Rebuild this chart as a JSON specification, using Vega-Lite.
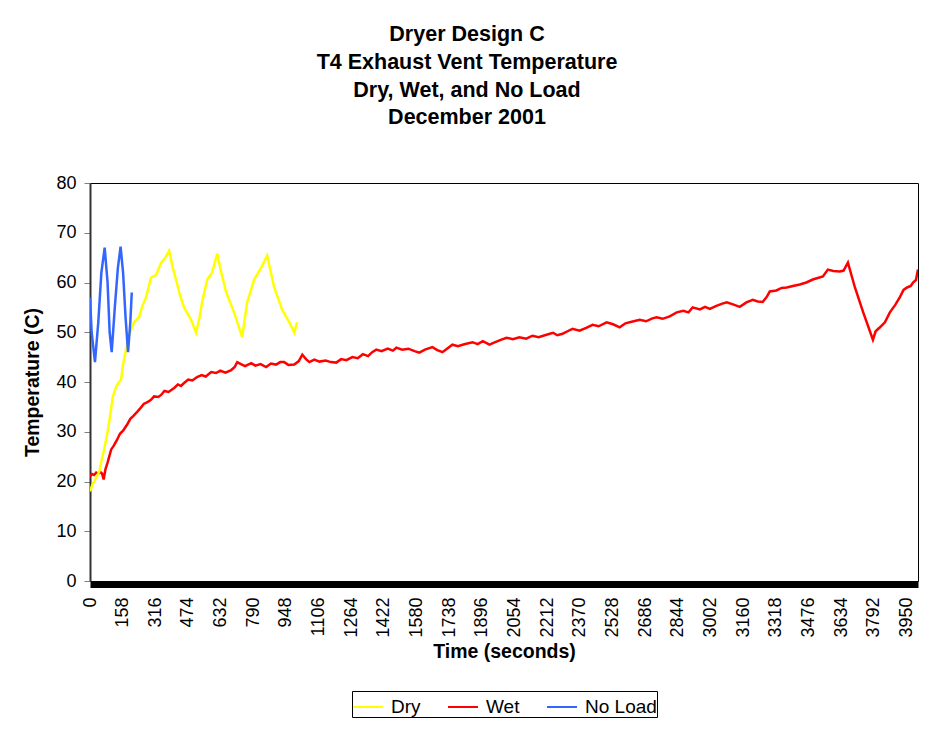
{
  "$schema": "https://vega.github.io/schema/vega-lite/v6.json",
  "width": 828,
  "height": 398,
  "autosize": {"type": "none"},
  "padding": {"left": 90, "top": 183, "right": 17, "bottom": 149},
  "background": "white",
  "config": {
    "font": "Liberation Sans",
    "view": {"stroke": "#000", "strokeWidth": 1},
    "axis": {"labelColor": "#000", "titleColor": "#000", "grid": false}
  },
  "title": {
    "text": ["Dryer Design C", "T4 Exhaust Vent Temperature", "Dry, Wet, and No Load", "December 2001"],
    "fontSize": 21.5,
    "fontWeight": "bold",
    "lineHeight": 27.7,
    "anchor": "middle",
    "dx": -37,
    "offset": 45,
    "color": "#000"
  },
  "data": {
    "values": [
      {"s": "Wet", "t": 0, "v": 21.0}, {"s": "Wet", "t": 10, "v": 21.5}, {"s": "Wet", "t": 20, "v": 21.3}, {"s": "Wet", "t": 30, "v": 21.8},
      {"s": "Wet", "t": 40, "v": 21.6}, {"s": "Wet", "t": 50, "v": 21.9}, {"s": "Wet", "t": 58, "v": 21.6}, {"s": "Wet", "t": 66, "v": 20.4},
      {"s": "Wet", "t": 75, "v": 22.5}, {"s": "Wet", "t": 85, "v": 23.8}, {"s": "Wet", "t": 95, "v": 25.3}, {"s": "Wet", "t": 102, "v": 26.4},
      {"s": "Wet", "t": 115, "v": 27.2}, {"s": "Wet", "t": 131, "v": 28.4}, {"s": "Wet", "t": 145, "v": 29.6}, {"s": "Wet", "t": 160, "v": 30.2},
      {"s": "Wet", "t": 179, "v": 31.4}, {"s": "Wet", "t": 195, "v": 32.6}, {"s": "Wet", "t": 210, "v": 33.2}, {"s": "Wet", "t": 228, "v": 34.0},
      {"s": "Wet", "t": 245, "v": 34.8}, {"s": "Wet", "t": 260, "v": 35.6}, {"s": "Wet", "t": 280, "v": 36.0}, {"s": "Wet", "t": 295, "v": 36.4},
      {"s": "Wet", "t": 310, "v": 37.1}, {"s": "Wet", "t": 330, "v": 37.0}, {"s": "Wet", "t": 344, "v": 37.4}, {"s": "Wet", "t": 360, "v": 38.2},
      {"s": "Wet", "t": 380, "v": 38.0}, {"s": "Wet", "t": 407, "v": 38.8}, {"s": "Wet", "t": 425, "v": 39.5}, {"s": "Wet", "t": 440, "v": 39.2},
      {"s": "Wet", "t": 455, "v": 39.8}, {"s": "Wet", "t": 475, "v": 40.5}, {"s": "Wet", "t": 495, "v": 40.3}, {"s": "Wet", "t": 518, "v": 41.0},
      {"s": "Wet", "t": 540, "v": 41.4}, {"s": "Wet", "t": 560, "v": 41.1}, {"s": "Wet", "t": 586, "v": 42.0}, {"s": "Wet", "t": 610, "v": 41.8},
      {"s": "Wet", "t": 630, "v": 42.3}, {"s": "Wet", "t": 655, "v": 41.9}, {"s": "Wet", "t": 683, "v": 42.4}, {"s": "Wet", "t": 700, "v": 43.0},
      {"s": "Wet", "t": 712, "v": 44.0}, {"s": "Wet", "t": 730, "v": 43.6}, {"s": "Wet", "t": 750, "v": 43.2}, {"s": "Wet", "t": 780, "v": 43.8},
      {"s": "Wet", "t": 800, "v": 43.3}, {"s": "Wet", "t": 825, "v": 43.6}, {"s": "Wet", "t": 852, "v": 43.0}, {"s": "Wet", "t": 875, "v": 43.7},
      {"s": "Wet", "t": 900, "v": 43.5}, {"s": "Wet", "t": 920, "v": 44.0}, {"s": "Wet", "t": 939, "v": 44.0}, {"s": "Wet", "t": 960, "v": 43.4},
      {"s": "Wet", "t": 988, "v": 43.5}, {"s": "Wet", "t": 1010, "v": 44.2}, {"s": "Wet", "t": 1027, "v": 45.5}, {"s": "Wet", "t": 1045, "v": 44.6},
      {"s": "Wet", "t": 1061, "v": 44.0}, {"s": "Wet", "t": 1085, "v": 44.5}, {"s": "Wet", "t": 1110, "v": 44.1}, {"s": "Wet", "t": 1140, "v": 44.3},
      {"s": "Wet", "t": 1165, "v": 44.0}, {"s": "Wet", "t": 1191, "v": 43.9}, {"s": "Wet", "t": 1215, "v": 44.6}, {"s": "Wet", "t": 1240, "v": 44.4},
      {"s": "Wet", "t": 1269, "v": 45.0}, {"s": "Wet", "t": 1295, "v": 44.8}, {"s": "Wet", "t": 1320, "v": 45.6}, {"s": "Wet", "t": 1345, "v": 45.2},
      {"s": "Wet", "t": 1365, "v": 46.0}, {"s": "Wet", "t": 1385, "v": 46.5}, {"s": "Wet", "t": 1410, "v": 46.2}, {"s": "Wet", "t": 1440, "v": 46.7},
      {"s": "Wet", "t": 1465, "v": 46.3}, {"s": "Wet", "t": 1482, "v": 46.9}, {"s": "Wet", "t": 1510, "v": 46.5}, {"s": "Wet", "t": 1540, "v": 46.7},
      {"s": "Wet", "t": 1570, "v": 46.2}, {"s": "Wet", "t": 1593, "v": 45.9}, {"s": "Wet", "t": 1620, "v": 46.5}, {"s": "Wet", "t": 1656, "v": 47.0},
      {"s": "Wet", "t": 1680, "v": 46.4}, {"s": "Wet", "t": 1705, "v": 46.0}, {"s": "Wet", "t": 1730, "v": 46.8}, {"s": "Wet", "t": 1753, "v": 47.5},
      {"s": "Wet", "t": 1780, "v": 47.2}, {"s": "Wet", "t": 1810, "v": 47.6}, {"s": "Wet", "t": 1850, "v": 48.0}, {"s": "Wet", "t": 1875, "v": 47.6},
      {"s": "Wet", "t": 1900, "v": 48.2}, {"s": "Wet", "t": 1932, "v": 47.5}, {"s": "Wet", "t": 1960, "v": 48.0}, {"s": "Wet", "t": 1990, "v": 48.5},
      {"s": "Wet", "t": 2015, "v": 48.9}, {"s": "Wet", "t": 2045, "v": 48.6}, {"s": "Wet", "t": 2077, "v": 49.0}, {"s": "Wet", "t": 2110, "v": 48.7},
      {"s": "Wet", "t": 2140, "v": 49.3}, {"s": "Wet", "t": 2170, "v": 49.0}, {"s": "Wet", "t": 2208, "v": 49.5}, {"s": "Wet", "t": 2240, "v": 49.9},
      {"s": "Wet", "t": 2260, "v": 49.4}, {"s": "Wet", "t": 2286, "v": 49.7}, {"s": "Wet", "t": 2310, "v": 50.2}, {"s": "Wet", "t": 2334, "v": 50.7},
      {"s": "Wet", "t": 2368, "v": 50.3}, {"s": "Wet", "t": 2400, "v": 50.9}, {"s": "Wet", "t": 2431, "v": 51.5}, {"s": "Wet", "t": 2460, "v": 51.2},
      {"s": "Wet", "t": 2499, "v": 52.0}, {"s": "Wet", "t": 2530, "v": 51.6}, {"s": "Wet", "t": 2562, "v": 51.0}, {"s": "Wet", "t": 2590, "v": 51.8},
      {"s": "Wet", "t": 2620, "v": 52.1}, {"s": "Wet", "t": 2659, "v": 52.5}, {"s": "Wet", "t": 2690, "v": 52.2}, {"s": "Wet", "t": 2720, "v": 52.8},
      {"s": "Wet", "t": 2741, "v": 53.0}, {"s": "Wet", "t": 2770, "v": 52.7}, {"s": "Wet", "t": 2804, "v": 53.2}, {"s": "Wet", "t": 2838, "v": 54.0},
      {"s": "Wet", "t": 2870, "v": 54.3}, {"s": "Wet", "t": 2895, "v": 54.0}, {"s": "Wet", "t": 2915, "v": 55.0}, {"s": "Wet", "t": 2950, "v": 54.6},
      {"s": "Wet", "t": 2975, "v": 55.1}, {"s": "Wet", "t": 2998, "v": 54.7}, {"s": "Wet", "t": 3030, "v": 55.3}, {"s": "Wet", "t": 3055, "v": 55.7},
      {"s": "Wet", "t": 3080, "v": 56.0}, {"s": "Wet", "t": 3110, "v": 55.6}, {"s": "Wet", "t": 3143, "v": 55.1}, {"s": "Wet", "t": 3175, "v": 56.0},
      {"s": "Wet", "t": 3206, "v": 56.5}, {"s": "Wet", "t": 3230, "v": 56.2}, {"s": "Wet", "t": 3254, "v": 56.1}, {"s": "Wet", "t": 3275, "v": 57.2},
      {"s": "Wet", "t": 3288, "v": 58.2}, {"s": "Wet", "t": 3320, "v": 58.4}, {"s": "Wet", "t": 3345, "v": 58.9}, {"s": "Wet", "t": 3370, "v": 59.0},
      {"s": "Wet", "t": 3400, "v": 59.3}, {"s": "Wet", "t": 3433, "v": 59.6}, {"s": "Wet", "t": 3465, "v": 60.0}, {"s": "Wet", "t": 3496, "v": 60.6},
      {"s": "Wet", "t": 3520, "v": 60.9}, {"s": "Wet", "t": 3545, "v": 61.2}, {"s": "Wet", "t": 3569, "v": 62.6}, {"s": "Wet", "t": 3595, "v": 62.3},
      {"s": "Wet", "t": 3627, "v": 62.2}, {"s": "Wet", "t": 3645, "v": 62.4}, {"s": "Wet", "t": 3666, "v": 64.0}, {"s": "Wet", "t": 3700, "v": 59.0},
      {"s": "Wet", "t": 3740, "v": 54.0}, {"s": "Wet", "t": 3787, "v": 48.5}, {"s": "Wet", "t": 3800, "v": 50.2}, {"s": "Wet", "t": 3821, "v": 51.0},
      {"s": "Wet", "t": 3845, "v": 52.0}, {"s": "Wet", "t": 3869, "v": 54.0}, {"s": "Wet", "t": 3895, "v": 55.5}, {"s": "Wet", "t": 3918, "v": 57.1},
      {"s": "Wet", "t": 3935, "v": 58.5}, {"s": "Wet", "t": 3952, "v": 59.0}, {"s": "Wet", "t": 3970, "v": 59.3}, {"s": "Wet", "t": 3981, "v": 60.0},
      {"s": "Wet", "t": 3995, "v": 60.5}, {"s": "Wet", "t": 4005, "v": 62.6},
      {"s": "Dry", "t": 0, "v": 18.0}, {"s": "Dry", "t": 10, "v": 19.2}, {"s": "Dry", "t": 20, "v": 20.0}, {"s": "Dry", "t": 35, "v": 21.2},
      {"s": "Dry", "t": 45, "v": 22.0}, {"s": "Dry", "t": 55, "v": 24.0}, {"s": "Dry", "t": 68, "v": 26.4}, {"s": "Dry", "t": 87, "v": 30.4},
      {"s": "Dry", "t": 100, "v": 34.0}, {"s": "Dry", "t": 110, "v": 37.0}, {"s": "Dry", "t": 126, "v": 39.0}, {"s": "Dry", "t": 140, "v": 40.0},
      {"s": "Dry", "t": 150, "v": 40.4}, {"s": "Dry", "t": 160, "v": 43.5}, {"s": "Dry", "t": 174, "v": 46.5}, {"s": "Dry", "t": 190, "v": 49.5},
      {"s": "Dry", "t": 213, "v": 52.0}, {"s": "Dry", "t": 237, "v": 53.0}, {"s": "Dry", "t": 255, "v": 55.5}, {"s": "Dry", "t": 271, "v": 57.0},
      {"s": "Dry", "t": 295, "v": 61.0}, {"s": "Dry", "t": 320, "v": 61.5}, {"s": "Dry", "t": 344, "v": 64.0}, {"s": "Dry", "t": 365, "v": 65.0},
      {"s": "Dry", "t": 383, "v": 66.4}, {"s": "Dry", "t": 400, "v": 63.0}, {"s": "Dry", "t": 416, "v": 60.6}, {"s": "Dry", "t": 435, "v": 57.5},
      {"s": "Dry", "t": 455, "v": 55.0}, {"s": "Dry", "t": 489, "v": 52.5}, {"s": "Dry", "t": 513, "v": 49.9}, {"s": "Dry", "t": 530, "v": 53.0},
      {"s": "Dry", "t": 542, "v": 56.0}, {"s": "Dry", "t": 567, "v": 60.6}, {"s": "Dry", "t": 591, "v": 62.0}, {"s": "Dry", "t": 615, "v": 65.8},
      {"s": "Dry", "t": 635, "v": 62.0}, {"s": "Dry", "t": 659, "v": 58.0}, {"s": "Dry", "t": 697, "v": 54.0}, {"s": "Dry", "t": 736, "v": 49.0},
      {"s": "Dry", "t": 760, "v": 56.0}, {"s": "Dry", "t": 794, "v": 60.6}, {"s": "Dry", "t": 828, "v": 63.0}, {"s": "Dry", "t": 857, "v": 65.4},
      {"s": "Dry", "t": 891, "v": 59.0}, {"s": "Dry", "t": 930, "v": 54.5}, {"s": "Dry", "t": 964, "v": 52.0}, {"s": "Dry", "t": 988, "v": 49.9},
      {"s": "Dry", "t": 1002, "v": 52.0},
      {"s": "No Load", "t": 0, "v": 57.0}, {"s": "No Load", "t": 8, "v": 50.0}, {"s": "No Load", "t": 24, "v": 44.0}, {"s": "No Load", "t": 40, "v": 52.0},
      {"s": "No Load", "t": 55, "v": 62.0}, {"s": "No Load", "t": 71, "v": 67.0}, {"s": "No Load", "t": 85, "v": 60.0}, {"s": "No Load", "t": 95, "v": 50.0},
      {"s": "No Load", "t": 105, "v": 46.0}, {"s": "No Load", "t": 120, "v": 55.0}, {"s": "No Load", "t": 135, "v": 63.0}, {"s": "No Load", "t": 148, "v": 67.2},
      {"s": "No Load", "t": 160, "v": 62.0}, {"s": "No Load", "t": 172, "v": 53.0}, {"s": "No Load", "t": 184, "v": 46.0}, {"s": "No Load", "t": 195, "v": 52.0},
      {"s": "No Load", "t": 202, "v": 58.0}
    ]
  },
  "mark": {"type": "line", "strokeWidth": 2.5, "clip": true},
  "encoding": {
    "x": {
      "field": "t",
      "type": "quantitative",
      "scale": {"domain": [0, 4005], "nice": false, "zero": true},
      "axis": {
        "title": "Time (seconds)",
        "values": [0, 158, 316, 474, 632, 790, 948, 1106, 1264, 1422, 1580, 1738, 1896, 2054, 2212, 2370, 2528, 2686, 2844, 3002, 3160, 3318, 3476, 3634, 3792, 3950],
        "format": "d",
        "labelAngle": 270,
        "labelFontSize": 18,
        "labelPadding": 13,
        "labelFlush": false,
        "labelOverlap": false,
        "ticks": false,
        "tickSize": 0,
        "domainColor": "#000",
        "domainWidth": 7,
        "offset": 3,
        "titleFontSize": 19.5,
        "titleFontWeight": "bold",
        "titlePadding": 5
      }
    },
    "y": {
      "field": "v",
      "type": "quantitative",
      "scale": {"domain": [0, 80], "nice": false},
      "axis": {
        "title": "Temperature (C)",
        "values": [0, 10, 20, 30, 40, 50, 60, 70, 80],
        "labelFontSize": 18,
        "labelPadding": 8,
        "tickSize": 6,
        "tickColor": "#808080",
        "domainColor": "#333",
        "domainWidth": 2,
        "titleFontSize": 19.5,
        "titleFontWeight": "bold",
        "titlePadding": 13
      }
    },
    "color": {
      "field": "s",
      "type": "nominal",
      "scale": {"domain": ["Dry", "Wet", "No Load"], "range": ["#FFFF00", "#FF0000", "#3366FF"]},
      "legend": {
        "title": null,
        "orient": "none",
        "legendX": 262,
        "legendY": 508,
        "direction": "horizontal",
        "strokeColor": "#000",
        "padding": 0,
        "symbolSize": 900,
        "symbolStrokeWidth": 2,
        "labelFontSize": 19,
        "labelColor": "#000",
        "labelOffset": 7,
        "columnPadding": 23
      }
    }
  }
}
